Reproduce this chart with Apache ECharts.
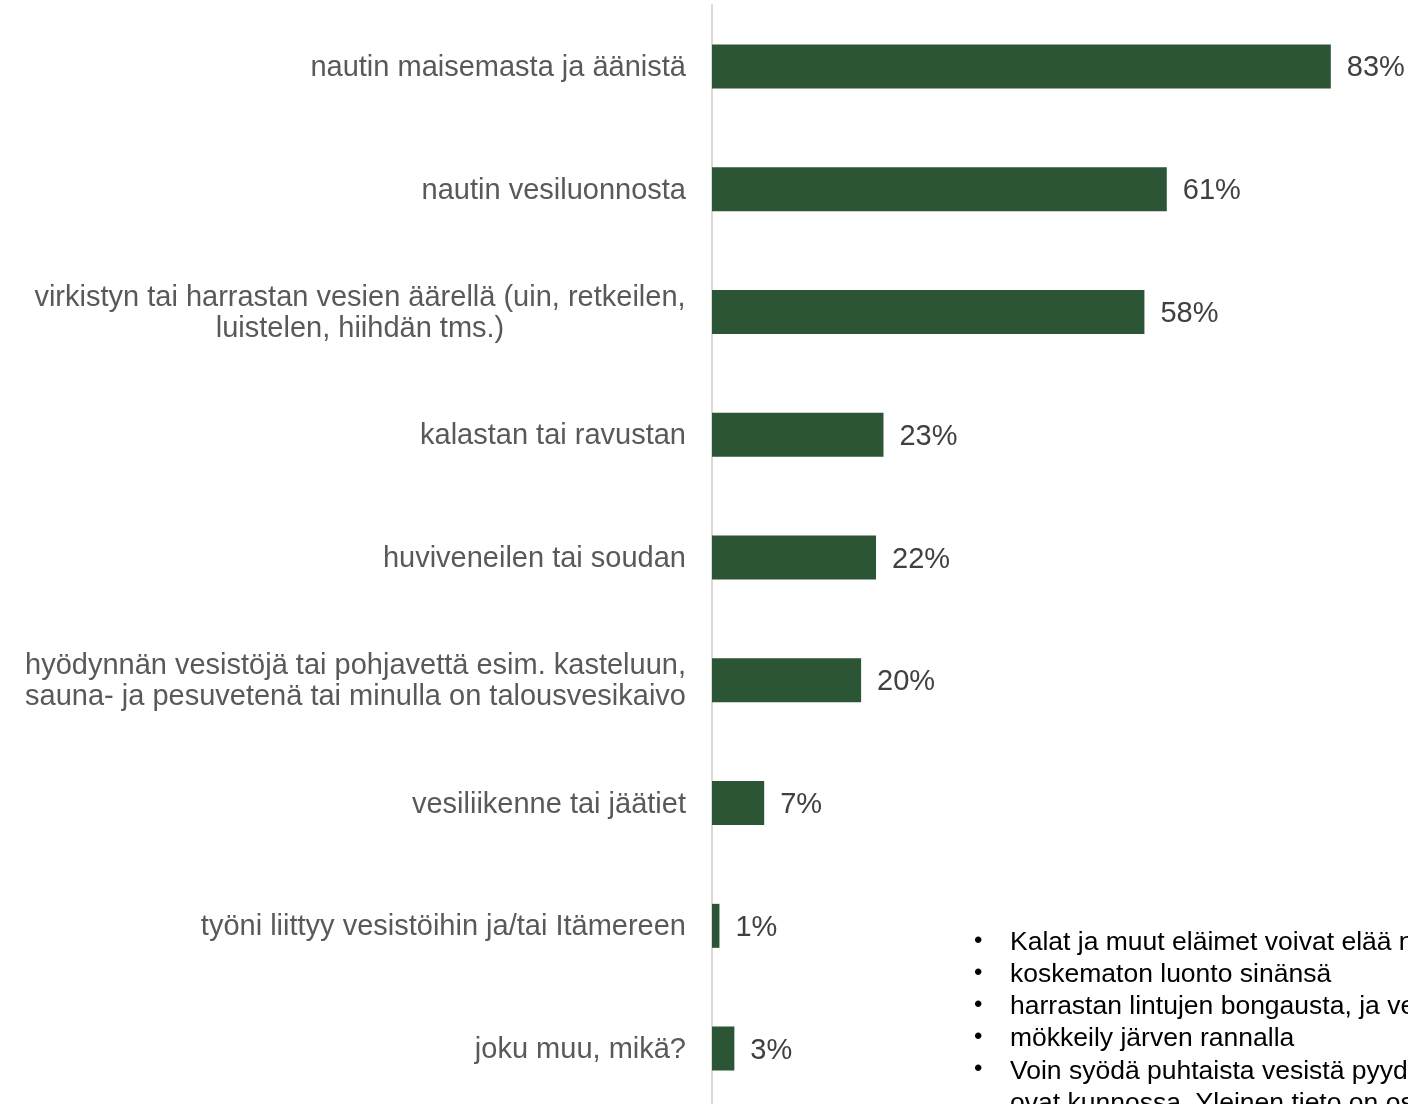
<!DOCTYPE html>
<html>
<head>
<meta charset="utf-8">
<script src="https://cdn.jsdelivr.net/npm/echarts@6/dist/echarts.min.js"></script>
<style>html,body{margin:0;padding:0;background:#fff;overflow:hidden;}#c{width:1408px;height:1110px;}</style>
</head>
<body>
<div id="c"></div>
<script>
var categories = [
  'nautin maisemasta ja äänistä',
  'nautin vesiluonnosta',
  'virkistyn tai harrastan vesien äärellä (uin, retkeilen,\nluistelen, hiihdän tms.)',
  'kalastan tai ravustan',
  'huviveneilen tai soudan',
  'hyödynnän vesistöjä tai pohjavettä esim. kasteluun,\nsauna- ja pesuvetenä tai minulla on talousvesikaivo',
  'vesiliikenne tai jäätiet',
  'työni liittyy vesistöihin ja/tai Itämereen',
  'joku muu, mikä?'
];
var values = [83, 61, 58, 23, 22, 20, 7, 1, 3];
var bulletTexts = [
  'Kalat ja muut eläimet voivat elää niissä',
  'koskematon luonto sinänsä',
  'harrastan lintujen bongausta, ja vesistöt',
  'mökkeily järven rannalla',
  'Voin syödä puhtaista vesistä pyydettyjä',
  'ovat kunnossa. Yleinen tieto on osa'
];

var FONT = "'Liberation Sans', Arial, sans-serif";
var LABEL_SIZE = 29;
var ctx = document.createElement('canvas').getContext('2d');
ctx.font = LABEL_SIZE + 'px ' + FONT;
var rich = {};
var labelFormat = {};
categories.forEach(function (c, i) {
  var lines = c.split('\n');
  if (lines.length > 1) {
    var w = 0;
    lines.forEach(function (l) { w = Math.max(w, ctx.measureText(l).width); });
    var key = 'c' + i;
    rich[key] = { width: Math.ceil(w), align: 'center', fontSize: LABEL_SIZE, fontFamily: FONT, color: '#595959', lineHeight: 31 };
    labelFormat[c] = lines.map(function (l) { return '{' + key + '|' + l + '}'; }).join('\n');
  }
});

var chart = echarts.init(document.getElementById('c'), null, { renderer: 'canvas' });
var graphics = [];
bulletTexts.forEach(function (t, i) {
  var y = 943 + i * 32.2;
  if (i < 5) {
    graphics.push({ type: 'text', left: 974, top: y - 14, style: { text: '•', font: '24px ' + FONT, fill: '#000' } });
  }
  graphics.push({ type: 'text', left: 1010, top: y - 14, style: { text: t, font: '26.5px ' + FONT, fill: '#000' } });
});

chart.setOption({
  animation: false,
  backgroundColor: '#ffffff',
  grid: { left: 712, top: 5, right: 25, bottom: 0, containLabel: false },
  xAxis: {
    type: 'value', min: 0, max: 90, show: false
  },
  yAxis: {
    type: 'category', inverse: true, data: categories,
    axisLine: { show: true, lineStyle: { color: '#d9d9d9', width: 2 } },
    axisTick: { show: false },
    axisLabel: {
      margin: 26, fontSize: LABEL_SIZE, fontFamily: FONT, color: '#595959', lineHeight: 31,
      padding: [3, 0, 0, 0],
      formatter: function (v) { return labelFormat[v] || v; },
      rich: rich
    }
  },
  series: [{
    type: 'bar', data: values, barWidth: 44,
    itemStyle: { color: '#2C5535' },
    label: {
      show: true, position: 'right', distance: 16, offset: [0, 2],
      formatter: '{c}%', fontSize: LABEL_SIZE, fontFamily: FONT, color: '#404040'
    }
  }],
  graphic: graphics
});
</script>
</body>
</html>
